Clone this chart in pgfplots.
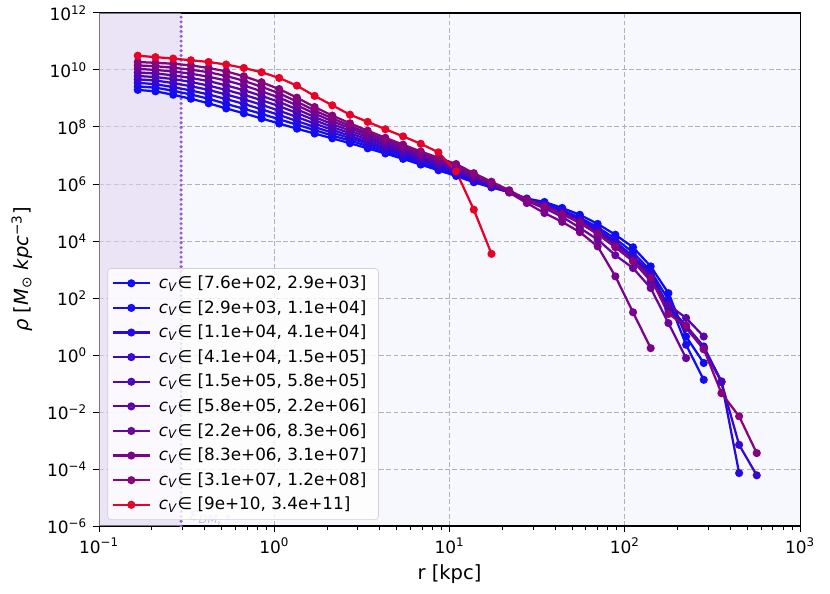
\documentclass[border=0pt]{standalone}
\usepackage{fontspec}
\setmainfont{DejaVu Sans}
\usepackage{pgfplots}
\usepackage{pgfplotstable}
\pgfplotsset{compat=1.18}
\definecolor{c1}{RGB}{12,12,250}
\definecolor{c2}{RGB}{22,14,240}
\definecolor{c3}{RGB}{38,10,225}
\definecolor{c4}{RGB}{56,8,206}
\definecolor{c5}{RGB}{74,6,190}
\definecolor{c6}{RGB}{90,5,172}
\definecolor{c7}{RGB}{106,4,156}
\definecolor{c8}{RGB}{122,3,140}
\definecolor{c9}{RGB}{136,3,124}
\definecolor{c10}{RGB}{232,2,40}
\definecolor{bgc}{RGB}{247,248,254}
\definecolor{shade}{RGB}{226,212,240}
\definecolor{dotc}{RGB}{145,95,205}
\definecolor{epsc}{RGB}{200,185,232}
\pgfplotstableread{
r s1 s2 s3 s4 s5 s6 s7 s8 s9 s10
0.1663 9.30 9.42 9.55 9.67 9.79 9.91 10.04 10.16 10.28 10.50
0.2099 9.25 9.38 9.50 9.63 9.75 9.88 10.00 10.13 10.25 10.45
0.2649 9.13 9.27 9.40 9.54 9.68 9.81 9.95 10.08 10.22 10.40
0.3342 8.99 9.14 9.28 9.43 9.58 9.72 9.87 10.01 10.16 10.34
0.4217 8.83 8.99 9.14 9.30 9.45 9.61 9.76 9.92 10.07 10.28
0.5312 8.65 8.81 8.98 9.14 9.30 9.46 9.63 9.79 9.95 10.19
0.6699 8.48 8.64 8.81 8.97 9.13 9.29 9.46 9.62 9.78 10.07
0.8453 8.30 8.46 8.62 8.78 8.94 9.09 9.25 9.41 9.57 9.92
1.066 8.12 8.27 8.42 8.57 8.73 8.88 9.03 9.18 9.33 9.72
1.346 7.94 8.08 8.21 8.35 8.49 8.62 8.76 8.89 9.03 9.45
1.698 7.77 7.89 8.00 8.12 8.24 8.35 8.47 8.58 8.70 9.09
2.142 7.60 7.70 7.80 7.90 8.00 8.10 8.20 8.30 8.40 8.76
2.703 7.43 7.52 7.61 7.69 7.78 7.87 7.96 8.04 8.13 8.43
3.410 7.25 7.33 7.41 7.48 7.56 7.64 7.72 7.79 7.87 8.18
4.303 7.07 7.14 7.21 7.28 7.35 7.41 7.48 7.55 7.62 7.92
5.429 6.88 6.94 7.01 7.07 7.13 7.19 7.26 7.32 7.38 7.67
6.850 6.68 6.74 6.80 6.85 6.91 6.97 7.03 7.08 7.14 7.41
8.64 6.48 6.54 6.59 6.65 6.70 6.76 6.81 6.87 6.92 7.11
10.90 6.28 6.33 6.39 6.44 6.49 6.54 6.60 6.65 6.70 6.44
13.75 6.06 6.09 6.12 6.16 6.20 6.24 6.28 6.32 6.38 5.10
17.35 5.88 5.89 5.91 5.93 5.95 5.98 6.00 6.03 6.08 3.55
21.9 5.72 5.71 5.72 5.73 5.74 5.75 5.72 5.70 5.78 nan
27.6 5.49 5.46 5.45 5.45 5.44 5.43 5.40 5.33 5.45 nan
34.8 5.37 5.32 5.28 5.26 5.24 5.22 5.15 4.98 5.22 nan
43.9 5.16 5.08 5.02 5.00 4.98 4.95 4.85 4.67 4.95 nan
55.4 4.92 4.82 4.75 4.72 4.68 4.63 4.46 4.31 4.65 nan
70.0 4.60 4.48 4.40 4.36 4.30 4.24 4.05 3.81 4.25 nan
88.3 4.22 4.08 3.98 3.93 3.85 3.78 3.50 2.76 3.80 nan
111.4 3.78 3.60 3.46 3.40 3.34 3.29 3.05 1.50 3.30 nan
140.5 3.11 2.95 2.87 2.82 2.75 2.60 2.35 0.24 2.70 nan
177.3 2.17 1.94 1.71 1.60 1.50 1.76 1.12 nan 1.44 nan
223.6 0.65 0.36 1.03 1.00 0.95 1.30 -0.11 nan 1.03 nan
282.1 -0.28 -0.87 0.30 0.25 0.20 0.65 nan nan 0.21 nan
356 nan nan -0.93 -0.95 -0.93 nan nan nan -1.34 nan
449 nan nan -4.14 -3.15 nan nan nan nan -2.15 nan
566 nan nan nan -4.22 nan nan nan nan -3.44 nan
}\data
\newcommand{\cv}{\textit{c}\textsubscript{\textit{V}}∈ }
\begin{document}
\begin{tikzpicture}
\begin{axis}[
  scale only axis, width=438pt, height=320.6pt,
  xmode=log, xmin=0.1, xmax=1000,
  ymin=-6, ymax=12,
  xtick={0.1,1,10,100,1000},
  xticklabels={10\textsuperscript{−1},10\textsuperscript{0},10\textsuperscript{1},10\textsuperscript{2},10\textsuperscript{3}},
  ytick={-6,-4,-2,0,2,4,6,8,10,12},
  yticklabels={10\textsuperscript{−6},10\textsuperscript{−4},10\textsuperscript{−2},10\textsuperscript{0},10\textsuperscript{2},10\textsuperscript{4},10\textsuperscript{6},10\textsuperscript{8},10\textsuperscript{10},10\textsuperscript{12}},
  minor y tick num=0,
  grid=major,
  major grid style={dash pattern=on 3pt off 1.6pt, color=black!30, line width=0.6pt},
  axis background/.style={fill=bgc},
  tick align=outside, tick pos=left,
  major tick length=4pt, minor tick length=2.3pt,
  every tick/.style={black, line width=0.6pt},
  axis line style={line width=0.7pt},
  ticklabel style={font=\fontsize{10.6}{12}\selectfont},
  xlabel={r [kpc]},
  ylabel={\textit{ρ} [\textit{M}\textsubscript{⊙} \textit{kpc}\textsuperscript{−3}]},
  every axis x label/.style={at={(axis description cs:0.5,-0.094)}, anchor=center, font=\fontsize{12.2}{14}\selectfont},
  every axis y label/.style={at={(axis description cs:-0.11,0.5)}, anchor=center, rotate=90, font=\fontsize{12.2}{14}\selectfont},
  legend cell align=left,
  legend style={at={(0.012,0.012)}, anchor=south west, draw=black!18, fill=white, fill opacity=0.8, text opacity=1, rounded corners=2pt, font=\fontsize{10.5}{12}\selectfont, inner sep=2.5pt, row sep=1.9pt, nodes={inner xsep=5pt}},
  legend image code/.code={\draw[mark repeat=2,mark phase=2,#1] plot coordinates {(0pt,0pt) (11.5pt,0pt) (23pt,0pt)};},
  every axis plot/.append style={line width=1.4pt, mark=*, mark size=1.8pt},
]
\addplot[forget plot, draw=none, mark=none, fill=shade, fill opacity=0.55] coordinates {(0.1,-6) (0.294,-6) (0.294,12) (0.1,12)} -- cycle;
\addplot[forget plot, mark=none, color=dotc, line width=2.1pt, dash pattern=on 0pt off 3pt, line cap=round] coordinates {(0.294,-6) (0.294,12)};
\node[anchor=west, text=epsc, font=\fontsize{10.5}{12}\selectfont] at (axis cs:0.305,-5.72) {\textit{ε}\textsubscript{\textit{DM, *}}};
\addplot[c1, mark options={fill=c1}] table[x=r, y=s1] {\data}; \addlegendentry{\cv[7.6e+02, 2.9e+03]}
\addplot[c2, mark options={fill=c2}] table[x=r, y=s2] {\data}; \addlegendentry{\cv[2.9e+03, 1.1e+04]}
\addplot[c3, mark options={fill=c3}] table[x=r, y=s3] {\data}; \addlegendentry{\cv[1.1e+04, 4.1e+04]}
\addplot[c4, mark options={fill=c4}] table[x=r, y=s4] {\data}; \addlegendentry{\cv[4.1e+04, 1.5e+05]}
\addplot[c5, mark options={fill=c5}] table[x=r, y=s5] {\data}; \addlegendentry{\cv[1.5e+05, 5.8e+05]}
\addplot[c6, mark options={fill=c6}] table[x=r, y=s6] {\data}; \addlegendentry{\cv[5.8e+05, 2.2e+06]}
\addplot[c7, mark options={fill=c7}] table[x=r, y=s7] {\data}; \addlegendentry{\cv[2.2e+06, 8.3e+06]}
\addplot[c8, mark options={fill=c8}] table[x=r, y=s8] {\data}; \addlegendentry{\cv[8.3e+06, 3.1e+07]}
\addplot[c9, mark options={fill=c9}] table[x=r, y=s9] {\data}; \addlegendentry{\cv[3.1e+07, 1.2e+08]}
\addplot[c10, mark options={fill=c10}] table[x=r, y=s10] {\data}; \addlegendentry{\cv[9e+10, 3.4e+11]}
\end{axis}
\pgfresetboundingbox
\path[use as bounding box] ([xshift=-61.9pt,yshift=-41.9pt]current axis.south west) rectangle ([xshift=18.7pt,yshift=8.1pt]current axis.north east);
\end{tikzpicture}
\end{document}
